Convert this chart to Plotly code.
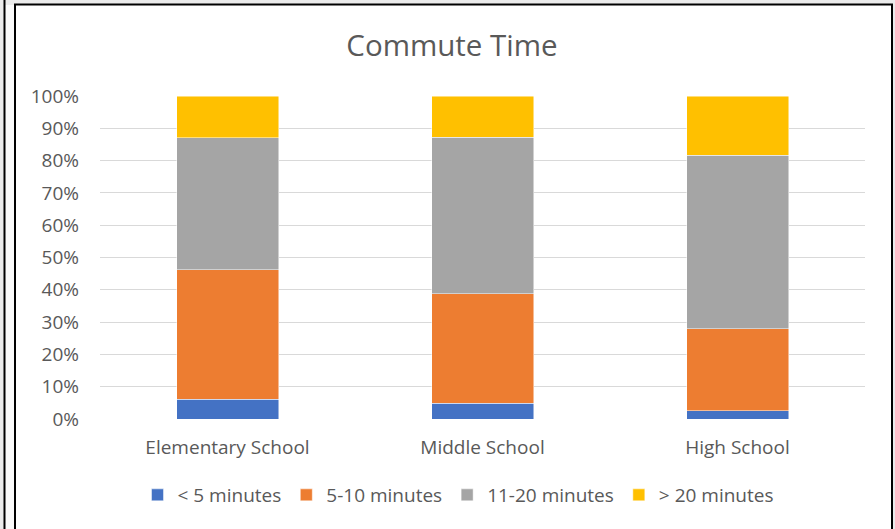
import plotly.graph_objects as go

categories = ["Elementary School", "Middle School", "High School"]
series_names = ["< 5 minutes", "5-10 minutes", "11-20 minutes", "> 20 minutes"]
lt5 = [6.1, 4.9, 2.5]
m5_10 = [40.1, 33.9, 25.4]
m11_20 = [40.8, 48.5, 53.8]
gt20 = [13.0, 12.7, 18.3]
colors = ["#4472C4", "#ED7D31", "#A5A5A5", "#FFC000"]
y_ticks = [i / 10 for i in range(11)]
y_ticklabels = [f"{i*10}%" for i in range(11)]

W, H = 895, 529
L, R, T = 100, 30, 96
B = H - 419
PW = W - L - R
PH = H - T - B

def px(x):
    return (x - L) / PW

def py(y):
    return (H - B - y) / PH

FONT = "Open Sans"
TXT = "#595959"

fig = go.Figure()
for name, vals, col in zip(series_names, [lt5, m5_10, m11_20, gt20], colors):
    fig.add_trace(go.Bar(
        x=categories, y=[v / 100 for v in vals], name=name,
        marker=dict(color=col, line=dict(color="rgba(255,255,255,0.6)", width=0.8)),
        width=0.4,
    ))

shapes = [
    dict(type="rect", xref="paper", yref="paper", x0=px(-10), x1=px(910), y0=py(560), y1=py(-10),
         fillcolor="#ebebeb", line=dict(width=0), layer="below"),
    dict(type="rect", xref="paper", yref="paper", x0=px(5), x1=px(14), y0=py(560), y1=py(5),
         fillcolor="#fafafa", line=dict(width=0), layer="below"),
    dict(type="line", xref="paper", yref="paper", x0=px(4.5), x1=px(4.5), y0=py(560), y1=py(-10),
         line=dict(color="black", width=2), layer="below"),
    dict(type="rect", xref="paper", yref="paper", x0=px(15), x1=px(892), y0=py(560), y1=py(4.5),
         fillcolor="white", line=dict(color="black", width=2), layer="below"),
]

fig.update_layout(
    width=W, height=H,
    margin=dict(l=L, r=R, t=T, b=B),
    barmode="stack",
    paper_bgcolor="white",
    plot_bgcolor="rgba(0,0,0,0)",
    shapes=shapes,
    title=dict(text="Commute Time", x=452 / W, xref="container",
               y=1 - 46 / H, yref="container",
               xanchor="center", yanchor="middle",
               font=dict(family=FONT, size=29.5, color=TXT)),
    font=dict(family=FONT, size=19, color=TXT),
    yaxis=dict(range=[0, 1], tickvals=y_ticks, ticktext=y_ticklabels,
               showgrid=True, gridcolor="#D9D9D9", gridwidth=1,
               zeroline=False, showline=False, ticklabelstandoff=20,
               tickfont=dict(family=FONT, size=19, color=TXT)),
    xaxis=dict(showgrid=False, showline=False, zeroline=False, ticklabelstandoff=15,
               tickfont=dict(family=FONT, size=19, color=TXT)),
    legend=dict(orientation="h", x=458 / W, xref="container", xanchor="center",
                y=1 - 495 / H, yref="container", yanchor="middle",
                font=dict(family=FONT, size=19, color=TXT), itemwidth=30,
                traceorder="normal", bgcolor="rgba(0,0,0,0)"),
    bargap=0.6,
)

fig.write_html("out.html", config={"displayModeBar": False},
               post_script="document.body.style.margin='0';document.body.style.overflow='hidden';")
